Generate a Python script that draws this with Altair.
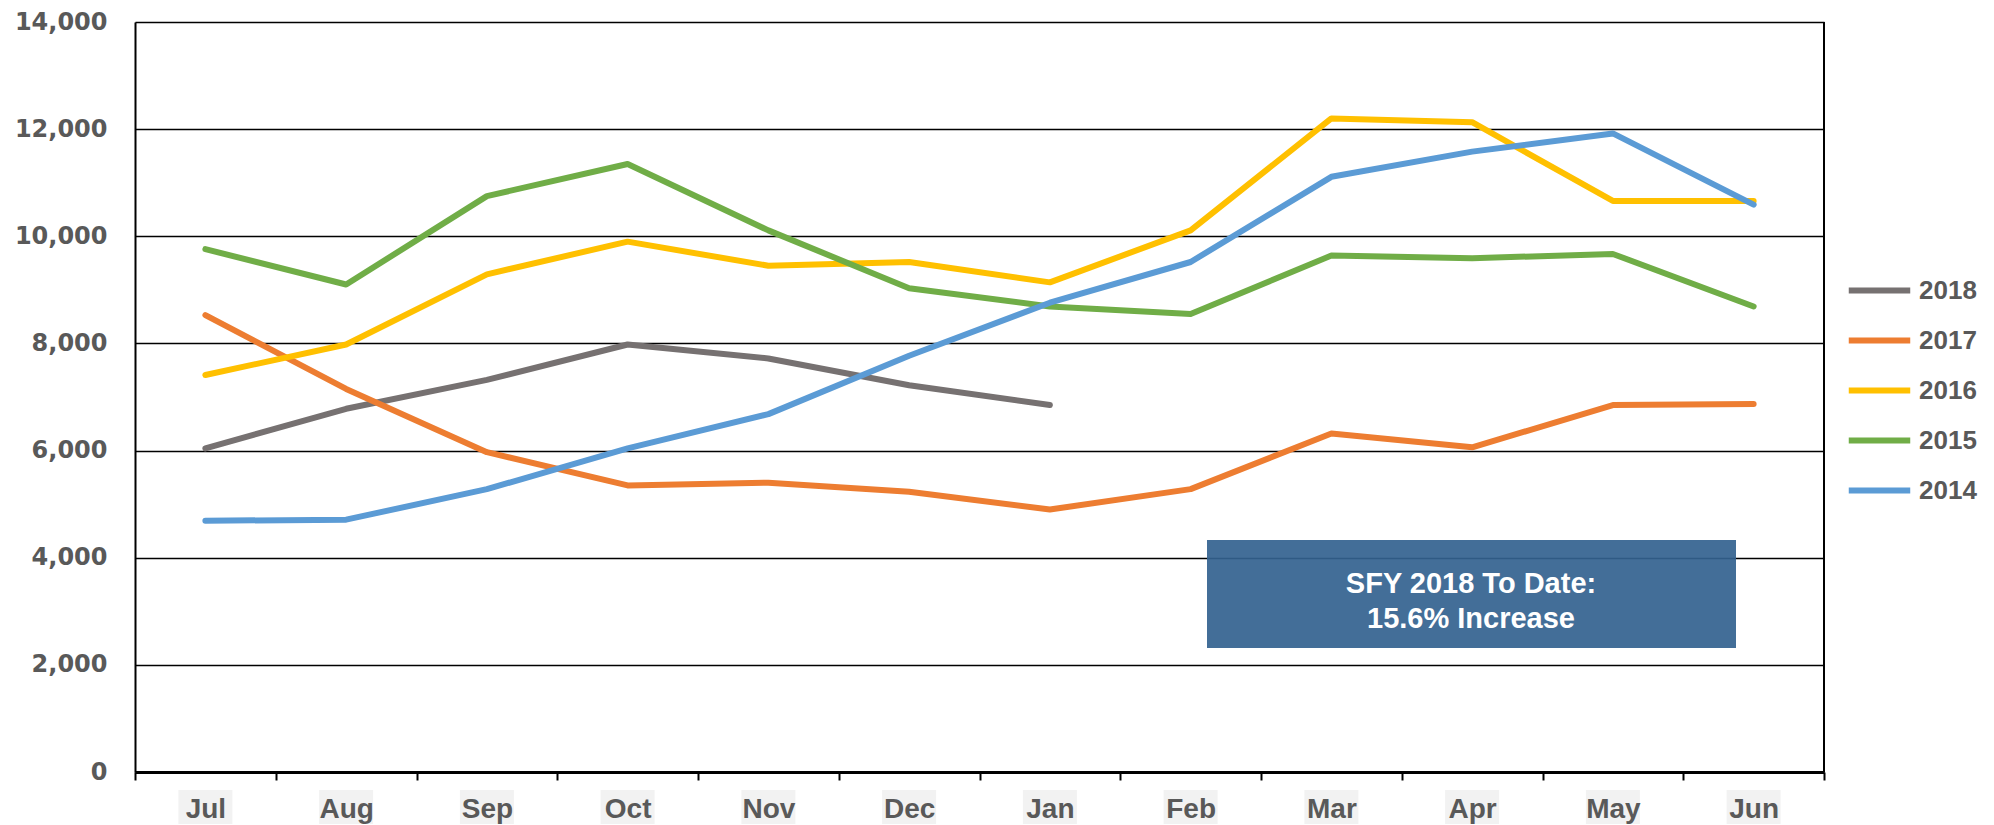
import altair as alt
import pandas as pd

months = ["Jul", "Aug", "Sep", "Oct", "Nov", "Dec", "Jan", "Feb", "Mar", "Apr", "May", "Jun"]
series_names = ["2018", "2017", "2016", "2015", "2014"]
v2018 = [6040, 6780, 7320, 7980, 7720, 7220, 6850]
v2017 = [8530, 7150, 5970, 5350, 5400, 5230, 4900, 5280, 6320, 6060, 6850, 6870]
v2016 = [7410, 7980, 9290, 9900, 9450, 9520, 9140, 10110, 12200, 12130, 10660, 10660]
v2015 = [9760, 9100, 10750, 11350, 10110, 9030, 8690, 8550, 9640, 9590, 9670, 8690]
v2014 = [4690, 4710, 5280, 6040, 6680, 7770, 8760, 9520, 11110, 11580, 11920, 10590]
colors = ["#767171", "#ED7D31", "#FFC000", "#70AD47", "#5B9BD5"]
y_ticks = [0, 2000, 4000, 6000, 8000, 10000, 12000, 14000]
annotation_lines = ["SFY 2018 To Date:", "15.6% Increase"]

all_vals = [v2018, v2017, v2016, v2015, v2014]
rows = []
for name, vals in zip(series_names, all_vals):
    for m, v in zip(months, vals):
        rows.append({"month": m, "year": name, "value": v})
df = pd.DataFrame(rows)
month_df = pd.DataFrame({"month": months})
one = pd.DataFrame({"k": [0]})

x_enc = alt.X(
    "month:N", sort=months, title=None,
    scale=alt.Scale(type="band", paddingInner=0, paddingOuter=0),
    axis=alt.Axis(
        labelAngle=0, tickBand="extent", domainColor="black", domainWidth=3,
        tickColor="black", tickWidth=2, tickSize=8, labelFont="Liberation Sans",
        labelFontWeight="bold", labelFontSize=28, labelColor="#595959",
        labelPadding=15, zindex=1,
    ),
)
y_enc = alt.Y(
    "value:Q", title=None,
    scale=alt.Scale(domain=[0, 14000], nice=False),
    axis=alt.Axis(
        values=y_ticks, format=",d", grid=True, gridColor="black", gridWidth=1.5,
        domainColor="black", domainWidth=2, ticks=False, labelFont="DejaVu Sans",
        labelFontWeight="bold", labelFontSize=24, labelColor="#595959",
        labelPadding=28,
    ),
)
color_enc = alt.Color(
    "year:N",
    scale=alt.Scale(domain=series_names, range=colors),
    sort=series_names,
    legend=alt.Legend(
        title=None, orient="none", legendX=1731, legendY=255,
        symbolType="M-3,0H3", symbolSize=420, symbolStrokeWidth=6,
        labelOffset=26, labelFont="Liberation Sans", labelFontWeight="bold",
        labelFontSize=26, labelColor="#595959", rowPadding=23,
    ),
)

label_boxes = alt.Chart(month_df).mark_bar(width=54, color="#F2F2F2").encode(
    x=x_enc, y=alt.value(768), y2=alt.value(802)
)

lines = []
for name in series_names:
    lines.append(
        alt.Chart(df[df["year"] == name]).mark_line(strokeWidth=6, strokeCap="round", strokeJoin="round").encode(
            x=x_enc, y=y_enc, color=color_enc
        )
    )

right_border = alt.Chart(one).mark_rule(color="black", strokeWidth=2).encode(
    x=alt.value(1689), y=alt.value(0), y2=alt.value(750)
)

box = alt.Chart(one).mark_rect(color="#33628F", opacity=0.92).encode(
    x=alt.value(1072), x2=alt.value(1601), y=alt.value(518), y2=alt.value(626)
)
box_text = alt.Chart(one).mark_text(
    font="Liberation Sans", fontWeight="bold", fontSize=29, color="white",
    lineHeight=35, align="center", baseline="middle",
).encode(x=alt.value(1336), y=alt.value(562), text=alt.value(annotation_lines))

chart = alt.layer(label_boxes, *lines, right_border, box, box_text).properties(
    width=1689, height=750,
    autosize=alt.AutoSizeParams(type="none"),
    padding={"left": 127, "top": 14, "right": 160, "bottom": 53},
).configure_view(stroke="black", strokeWidth=2).configure(background="white")

chart.save("out.html", embed_options={"renderer": "svg", "actions": False})
